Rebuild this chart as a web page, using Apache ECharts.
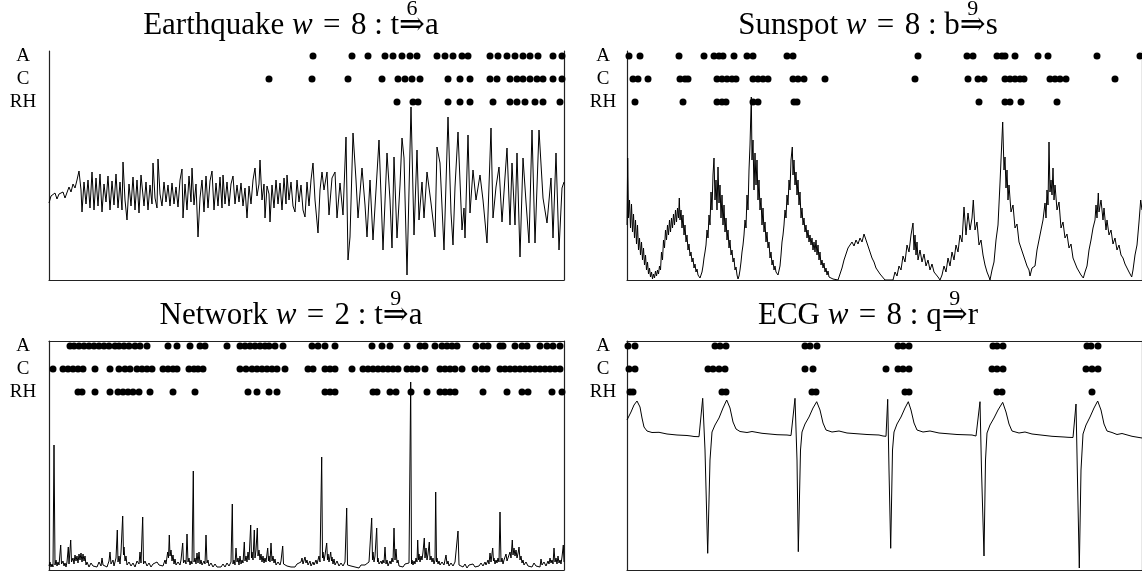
<!DOCTYPE html>
<html><head><meta charset="utf-8">
<script src="https://cdn.jsdelivr.net/npm/echarts@6/dist/echarts.min.js"></script>
<style>html,body{margin:0;padding:0;background:#fff}#c{width:1142px;height:574px}</style>
</head><body><div id="c"></div>
<script>
// ---------- DATA ----------
const rowLabels = ['RH', 'C', 'A'];

// Earthquake series [time, amplitude]
const eqLine = [[0,77],[2,84],[4,82],[6,87],[8,81],[10,86],[12,84],[14,88],[16,82],[18,80],[20,93],[22,88],[24,96],[26,92],[28,100],[30,109],[32,90],[33,68],[35,98],[37,76],[39,100],[41,72],[43,108],[45,70],[47,102],[49,74],[51,106],[53,68],[55,96],[57,78],[59,104],[61,70],[63,99],[65,75],[67,106],[69,72],[71,98],[73,70],[74,118],[76,80],[78,60],[80,96],[82,74],[84,103],[86,70],[88,100],[90,67],[92,105],[93,107],[95,74],[97,98],[99,70],[101,95],[103,76],[104,117],[106,82],[108,72],[109,121],[111,86],[113,74],[115,98],[117,78],[119,95],[121,74],[123,97],[125,76],[127,93],[129,73],[131,100],[133,111],[134,62],[136,96],[138,70],[140,104],[142,78],[143,112],[145,75],[147,96],[149,43],[151,82],[153,100],[155,68],[157,104],[159,72],[161,99],[163,109],[165,70],[167,97],[169,74],[171,103],[173,72],[174,105],[176,76],[178,98],[180,74],[182,96],[184,104],[186,76],[188,95],[190,78],[192,97],[194,74],[196,92],[198,62],[200,94],[202,76],[204,100],[206,112],[208,84],[210,96],[211,120],[213,80],[215,96],[216,62],[218,94],[220,86],[221,58],[223,95],[225,72],[227,100],[229,76],[231,97],[233,70],[235,102],[237,76],[238,105],[240,80],[242,98],[244,74],[246,68],[248,100],[250,78],[252,95],[254,70],[256,63],
[258,98],[260,74],[262,100],[264,117],[266,80],[269,47],[271,90],[273,108],[275,90],[278,108],[280,65],[283,102],[286,108],[288,62],[291,97],[294,65],[297,143],[299,20],[301,43],[304,147],[307,100],[309,62],[313,112],[316,75],[318,43],[321,100],[324,40],[327,90],[330,140],[334,30],[338,127],[341,80],[343,32],[345,123],[348,42],[351,95],[353,142],[355,122],[358,5],[362,173],[365,45],[368,130],[370,60],[373,98],[375,62],[378,108],[382,77],[386,43],[388,133],[391,117],[395,30],[399,163],[402,67],[404,35],[406,93],[409,148],[413,50],[415,72],[416,42],[419,145],[421,67],[424,110],[427,80],[431,105],[434,80],[438,37],[442,152],[444,62],[447,93],[450,113],[453,58],[456,103],[458,132],[461,55],[463,117],[466,55],[468,127],[471,23],[474,122],[477,78],[480,37],[483,150],[486,37],[490,150],[494,82],[498,57],[502,102],[504,42],[507,127],[510,30],[513,92],[515,98]];
const eqA  = [264,303,319,336,344,353,361,368,388,396,404,413,419,441,449,458,466,474,481,489,504,513];
const eqC  = [220,263,299,333,349,356,363,371,399,411,421,441,448,461,468,474,481,488,494,504,513];
const eqRH = [348,364,369,399,411,421,444,461,468,476,486,494,511];

// Sunspot series
const ssLine = [[0,55],[0.7,122],[1.5,62],[2.5,80],[3.5,52],[4.5,76],[5.5,48],[6.5,66],[7.5,42],[8.5,60],[9.5,36],[10.5,55],[11.5,30],[12.5,42],[13.5,25],[14.5,38],[15.5,20],[16.5,32],[17.5,15],[18.5,25],[19.5,10],[20.5,18],[21.5,6],[22.5,12],[23.5,3],[24.5,8],[25.5,1],[26.5,6],[27.5,2],[28.5,9],[29.5,4],[30.5,10],[31.5,6],[32.5,14],[33.5,10],[34.5,28],[35.5,20],[36.5,40],[37.5,32],[38.5,50],[39.5,40],[40.5,55],[41.5,45],[42.5,60],[43.5,48],[44.5,62],[45.5,52],[46.5,66],[47.5,55],[48.5,70],[49.5,58],[50.5,72],[51.5,62],[52.3,82],[53,60],[54,70],[55,52],[56,65],[57,45],[58,55],[59,38],[60,45],[61,30],[62,36],[63,24],[64,28],[65,18],[66,22],[67,12],[68,16],[69,8],[70,11],[71,5],[72,7],[73,2],[74,1],
[75,8],[76,14],[77,22],[78,28],[79,35],[80,50],[81,42],[82,65],[83,55],[84,88],[85,70],[86,105],[87,122],[88,80],[89,100],[90,70],[91,113],[92,77],[93,95],[94,62],[95,85],[96,55],[97,75],[98,48],[99,62],[100,40],[101,50],[102,32],[103,40],[104,25],[105,30],[106,18],[107,22],[108,10],[109,13],[110,5],[111,1],[112,4],[113,10],[114,18],[115,28],[116,35],[117,45],[118,60],[119,52],[120,85],[121,70],[122,110],[123,135],[124.3,183],[125,120],[126,140],[127,90],[128,127],[129,95],[130,120],[131,80],[132,100],[133,70],[134,82],[135,55],[136,72],[137,48],[138,58],[139,38],[140,48],[141,32],[142,38],[143,22],[144,28],[145,15],[146,20],[147,10],[148,14],[149,8],[150,10],[151,5],[152.3,7],[153,14],[154,25],[155,38],[156,45],[157,55],[158,70],[159,62],[160,85],[161,75],[162,100],[163,90],[164,120],[165.3,133],[166,105],[167,120],[168,95],[169,108],[170,85],[171,100],[172,75],[173,88],[174,62],[175,72],[176,55],[177,62],[178,48],[179,55],[180,42],[181,50],[182,38],[183,45],[184,35],[185,42],[186,30],[187,38],[188,28],[189,40],[190,25],[191,35],[192,20],[193,28],[194,15],[195,20],[196,12],[197,17],[198,8],[199,12],[200,5],[201,9],[202,3],[204,5],[206,1],[208,3],[211,0],[213,6],[215,12],[217,20],[219,26],[221,32],[223,30],[225,38],[227,34],[229,40],[231,36],[233,42],[235,38],[237,46],[239,40],[241,34],[243,28],[245,22],[247,18],[249,12],[251,10],[253,6],[255,4],[258,0],[266,0],[268,8],[270,4],[272,14],[274,10],[276,24],[278,18],[280,35],[282,28],[284,45],[286,57],[287,30],[288,45],[289,25],[290,38],[291,20],[293,30],[295,18],[297,26],[299,14],[301,20],[303,10],[305,16],[307,8],[309,10],[311,3],[313,0],[315,5],[317,14],[319,8],[321,22],[323,14],[325,28],[327,20],[329,35],[331,28],[333,45],[335,38],[337,73],[339,45],[341,67],[343,50],[345,62],[346.3,80],[348,50],[350,58],[352,35],[354,40],[356,25],[358,15],[360,8],[362,3],[363,0],[365,10],[367,18],[369,40],[371,55],[373,97],[374,120],[375.7,158],[377,110],[378,123],[379,92],[380,110],[381,80],[382,95],[384,68],[386,75],[388,52],[390,56],[392,38],[394,40],[396,26],[398,28],[400,14],[402,10],[403,4],[405,12],[408,14],[410,30],[412,40],[414,38],[416,60],[418,77],[419,62],[420,90],[421,75],[422,138],[423,88],[424,100],[425,85],[426,112],[427,80],[428,95],[430,70],[432,78],[434,52],[436,58],[438,42],[440,46],[442,32],[444,36],[446,22],[448,20],[450,12],[452,10],[454,5],[456.3,2],[458,8],[460,14],[462,30],[464,40],[466,52],[468,60],[469,75],[470,62],[471.3,87],[472,68],[474,80],[476,60],[477,72],[479,50],[480,60],[482,45],[484,50],[486,36],[488,42],[490,30],[492,35],[494,25],[496,22],[498,16],[500,12],[502,8],[504.7,3],[506,10],[508,25],[510,35],[512,58],[513.7,80],[515,70]];
const ssA  = [2,13,52,77,87,92,96,107,120,126,160,166,291,340,346,370,375,378,388,411,421,470,513];
const ssC  = [6,11,21,53,58,61,90,95,100,105,109,126,131,136,141,166,171,177,198,288,341,351,357,378,383,388,393,397,423,428,433,439,488];
const ssRH = [8,56,90,95,99,126,131,167,170,352,378,383,394,430];

// Network series
const nwLine = [[0,4],[1,8],[2,3],[3,6],[4,3],[5,125],[6,5],[7,10],[8,4],[9,8],[10,5],[11.7,25],[12.5,6],[14,9],[15,4],[16,7],[17,3],[18,8],[19.3,23],[20,6],[21.7,30],[22.5,8],[24,12],[25,6],[26,15],[27,9],[28,14],[29,7],[30,16],[31,10],[32,17],[33,8],[34,16],[35,9],[36,14],[37,5],[38,8],[40,3],[42,7],[44,4],[46,6],[48,3],[50,8],[52,4],[53,12],[54,5],[56,7],[58,3],[60,9],[61,18],[62,6],[64,10],[65,4],[67,12],[68.3,40],[69,8],[70,14],[71,6],[72,18],[73.7,54],[74.5,15],[75,23],[76,9],[77,14],[78,5],[80,8],[82,4],[84,7],[86,3],[88,9],[90,6],[91,18],[92,7],[93.7,53],[94.5,6],[96,9],[98,4],[100,7],[102,3],[104,6],[106,4],[108,8],[110,5],[112,7],[114,4],[116,10],[117,6],[118.7,18],[119.5,12],[120.3,35],[121,14],[122,20],[123,9],[124,15],[125,6],[126,11],[127,5],[129,8],[131,5],[132,10],[133.7,27],[134.5,7],[136,10],[137,6],[138,36],[139,8],[140,12],[141,5],[142,9],[143,6],[144.3,99],[145,8],[146,12],[147,6],[148,17],[149,7],[150,18],[151,6],[152,10],[153,5],[155,9],[156,6],[157,35],[158,7],[159,10],[160,4],[162,7],[164,3],[166,6],[168,3],[170,5],[172,3],[174,6],[176,3],[178,7],[180,4],[182,8],[183.3,66],[184,6],[185,10],[186,5],[187,22],[188,8],[189,12],[190,5],[191,14],[192,6],[193,10],[194,7],[195.3,28],[196,9],[197,14],[198,8],[199,18],[200,10],[201.7,45],[202.5,12],[203,18],[204,10],[205.3,40],[206,12],[207,20],[208.3,42],[209,14],[210,20],[211,10],[212,16],[213,8],[214,14],[215,7],[216,12],[217,8],[218.7,22],[219.5,9],[220,14],[221,8],[222,27],[223,9],[224,14],[225,7],[226,11],[227,5],[229,8],[231,5],[232,9],[233.7,24],[234.5,6],[236,8],[238,4],[240,6],[242,3],[244,5],[246,3],[248,6],[250,4],[252,8],[253,12],[254,6],[256,13],[257,7],[258,10],[259,5],[261,9],[262,4],[264,8],[265,5],[267,10],[268,6],[270,14],[271,8],[272.7,113],[273.5,12],[274,18],[275,9],[276,15],[277.7,27],[278.5,10],[279,16],[280,8],[281.7,18],[282.5,9],[283,13],[284,6],[285,11],[286,5],[288,9],[290,4],[292,7],[294,4],[296,8],[297.7,62],[298.5,5],[300,7],[302,4],[304,6],[306,3],[308,5],[310,2],[312,5],[314,3],[316,5],[318,4],[320,8],[321,6],[322.7,52],[323.5,10],[324,18],[325,8],[326,14],[327.7,42],[328.5,8],[329,12],[330,6],[332,9],[333,6],[334,10],[335,7],[336,23],[337,6],[338,10],[339,4],[341,9],[342,6],[343,12],[344,8],[345,42],[346,10],[347,21],[348,7],[349,10],[350,4],[352,6],[354,3],[356,6],[358,4],[360,7],[361,5],[361.7,188],[362.5,6],[363,10],[364,5],[365,9],[366,6],[367,12],[368,8],[368.7,30],[369.5,10],[370,16],[371,8],[372,14],[373,10],[374,18],[375.3,32],[376,12],[377,22],[378,10],[379,16],[380.3,28],[381,10],[382,14],[383,8],[384,12],[385,6],[386,10],[386.7,78],[387.5,8],[388,12],[389,6],[390,9],[391,5],[393,8],[395,5],[396,10],[397,15],[398,6],[399,9],[400,4],[402,7],[404,4],[406,8],[408,6],[409,39],[410,5],[412,7],[414,3],[416,6],[418,2],[420,5],[422,3],[424,6],[426,3],[428,5],[430,4],[432,7],[434,4],[436,8],[437,5],[439,10],[440,6],[441,17],[442,8],[443.7,22],[444.5,9],[445,12],[446,6],[447,10],[448,7],[449,12],[450,8],[451,58],[452,8],[453,12],[454,6],[455,10],[456,8],[457,16],[458,9],[459,12],[460,10],[461,18],[462,12],[463.3,30],[464,15],[465,22],[466,14],[467,20],[468,12],[469.3,18],[470,23],[471,10],[472,14],[473,7],[474,10],[475,5],[477,8],[479,4],[481,6],[483,3],[485,7],[487,4],[489,6],[491,3],[492,11],[493,5],[495,8],[497,4],[499,9],[500,6],[501,12],[502,7],[503,10],[504,6],[505,22],[506,8],[507,12],[508,6],[509,14],[510,7],[511,10],[512,6],[513,13],[514.3,25],[515,8]];
const nwA  = [21,25,30,35,40,45,50,55,60,66,70,75,80,86,91,98,119,128,141,151,156,178,191,196,201,206,211,216,220,226,234,263,269,276,286,323,333,341,358,371,376,386,393,398,403,408,427,434,439,451,454,466,473,478,491,498,504,511];
const nwC  = [4,14,19,24,29,34,46,61,70,76,81,88,93,98,103,114,119,124,128,140,145,149,154,191,197,203,208,213,218,223,228,236,259,264,276,281,286,303,314,319,324,329,334,339,344,349,358,363,368,376,391,396,401,406,413,426,433,438,451,456,461,466,471,476,481,486,491,496,501,506,511];
const nwRH = [29,33,46,61,69,74,79,84,90,101,124,146,199,208,220,228,276,281,286,324,328,341,347,362,378,391,396,401,406,434,458,473,479,503,513];

// ECG series
const ecgLine = [[0,150],[2,154],[4,158],[7,165],[10,169],[13,163],[15,152],[17,143],[20,139],[25,137.5],[32,137.7],[40,136],[50,135],[60,134.5],[62,136],[64,134],[67,133.5],[72,133.3],[74,134],[75.7,171.7],[78,120],[80.7,16.7],[83,110],[85,138],[88,145],[92,152],[96,162],[99.7,170],[103,162],[106,148],[109,141],[113,138.5],[120,137.5],[125,138.5],[135,136.7],[150,135.3],[160,135],[162,136.5],[164,134.5],[166,134],[168,171.7],[170,110],[171.3,18.3],[173.5,120],[175,138],[178,146],[182,153],[186,162],[189.7,168.3],[193,160],[196,147],[199,140],[205,138],[212,139],[220,137],[240,135.5],[252,135],[254,136.3],[256,134],[259,133.7],[260.7,170.7],[262,100],[263.7,21.7],[265.5,120],[267,138],[270,146],[274,153],[278,162],[281.3,168.3],[284,160],[287,147],[290,140],[296,138],[303,139],[312,137],[330,135.5],[345,135],[347,136.5],[349,134],[351,133.5],[353,168.3],[354.5,100],[357,14],[358.5,110],[360,137],[363,145],[367,152],[371,160],[375.7,167.7],[379,158],[382,146],[385,139],[392,137],[398,138],[405,136],[425,133.7],[437,133],[439,135],[441,132.7],[446,132.5],[449,166],[450.5,90],[452.3,2],[454,100],[456,136],[459,145],[463,153],[467,162],[470.7,169],[474,160],[477,146],[480,139],[485,137.5],[490,135.5],[495,136.5],[505,133.7],[515,132]];
const ecgA  = [1,8,88,93,99,178,183,190,271,276,282,366,370,376,460,464,471];
const ecgC  = [2,8,81,86,92,98,178,186,259,271,276,282,365,370,376,459,465,471];
const ecgRH = [3,6,95,99,185,189,278,282,370,375,465];

// Titles (text, style: 0 upright, 1 italic, 2 arrow with superscript)
const EQ_SP = '\u200A=\u200A';
const titles = [
  {parts:[['Earthquake ',0],['w',1],[' '+EQ_SP+' 8 : t',0],['\u21D2',2],['a',0]], sup:'6'},
  {parts:[['Sunspot ',0],['w',1],[' '+EQ_SP+' 8 : b',0],['\u21D2',2],['s',0]], sup:'9'},
  {parts:[['Network ',0],['w',1],[' '+EQ_SP+' 2 : t',0],['\u21D2',2],['a',0]], sup:'9'},
  {parts:[['ECG ',0],['w',1],[' '+EQ_SP+' 8 : q',0],['\u21D2',2],['r',0]], sup:'9'}
];

// ---------- LAYOUT ----------
const FONT = '"Liberation Serif", "DejaVu Serif", serif';
const W = 515, H = 229;
const panels = [
  {left:49,  top:51,  topLine:false, cx:291, line:eqLine,  dots:[eqRH, eqC, eqA],   labelMargin:26},
  {left:627, top:51,  topLine:false, cx:868, line:ssLine,  dots:[ssRH, ssC, ssA],   labelMargin:24},
  {left:49,  top:341, topLine:true,  cx:291, line:nwLine,  dots:[nwRH, nwC, nwA],   labelMargin:26},
  {left:627, top:341, topLine:true,  cx:868, line:ecgLine, dots:[ecgRH, ecgC, ecgA], labelMargin:24}
];

const axisLS = {color:'#222', width:1.2};
const grid = [], xAxis = [], yAxis = [], series = [], graphic = [];
const ctx = document.createElement('canvas').getContext('2d');
const TS = 31, SS = 22;
function fontStr(it, size){ return (it===1?'italic ':'') + size + 'px ' + FONT; }
function tw(s, it, size){ ctx.font = fontStr(it, size); return ctx.measureText(s).width; }

panels.forEach((p, i) => {
  const gi = grid.length;
  grid.push({left:p.left, top:p.top, width:W, height:H});
  const xi = xAxis.length;
  const hideParts = {axisTick:{show:false}, axisLabel:{show:false}, splitLine:{show:false}};
  xAxis.push(Object.assign({gridIndex:gi, type:'value', min:0, max:W, axisLine:{show:true, onZero:false, lineStyle:axisLS}}, hideParts));
  if (p.topLine) xAxis.push(Object.assign({gridIndex:gi, type:'value', position:'top', min:0, max:W, axisLine:{show:true, onZero:false, lineStyle:axisLS}}, hideParts));
  const yi = yAxis.length;
  yAxis.push(Object.assign({gridIndex:gi, type:'value', min:0, max:H, axisLine:{show:true, onZero:false, lineStyle:axisLS}}, hideParts));
  yAxis.push(Object.assign({gridIndex:gi, type:'value', position:'right', min:0, max:H, axisLine:{show:true, onZero:false, lineStyle:axisLS}}, hideParts));
  series.push({type:'line', xAxisIndex:xi, yAxisIndex:yi, data:p.line, showSymbol:false, symbol:'none',
    lineStyle:{color:'#000', width:1}, silent:true, z:2});

  const dgi = grid.length;
  grid.push({left:p.left, top:p.top - 6.5, width:W, height:69});
  const dxi = xAxis.length;
  xAxis.push({gridIndex:dgi, type:'value', min:0, max:W, show:false});
  const dyi = yAxis.length;
  yAxis.push({gridIndex:dgi, type:'category', data:rowLabels, axisLine:{show:false}, axisTick:{show:false}, splitLine:{show:false},
    axisLabel:{show:true, interval:0, color:'#000', fontFamily:FONT, fontSize:19, align:'center', margin:p.labelMargin}});
  const pts = [];
  p.dots.forEach((arr, r) => arr.forEach(x => pts.push([x, rowLabels[r]])));
  series.push({type:'scatter', xAxisIndex:dxi, yAxisIndex:dyi, data:pts, symbol:'circle', symbolSize:7,
    itemStyle:{color:'#000', opacity:1}, silent:true, clip:false, z:3});

  const t = titles[i];
  const total = t.parts.reduce((a, q) => a + tw(q[0], q[1], TS), 0);
  let x = p.cx - total / 2;
  const yMid = p.top - 25, ySup = p.top - 42;
  t.parts.forEach(q => {
    const w = tw(q[0], q[1], TS);
    graphic.push({type:'text', x:x, y:yMid, silent:true,
      style:{text:q[0], font:fontStr(q[1], TS), fill:'#000', align:'left', verticalAlign:'middle', textAlign:'left', textVerticalAlign:'middle'}});
    if (q[1] === 2) {
      graphic.push({type:'text', x:x + w / 2, y:ySup, silent:true,
        style:{text:t.sup, font:fontStr(0, SS), fill:'#000', align:'center', verticalAlign:'middle', textAlign:'center', textVerticalAlign:'middle'}});
    }
    x += w;
  });
});

const chart = echarts.init(document.getElementById('c'), null, {renderer:'canvas'});
chart.setOption({animation:false, backgroundColor:'#fff', grid, xAxis, yAxis, series, graphic});
</script></body></html>
